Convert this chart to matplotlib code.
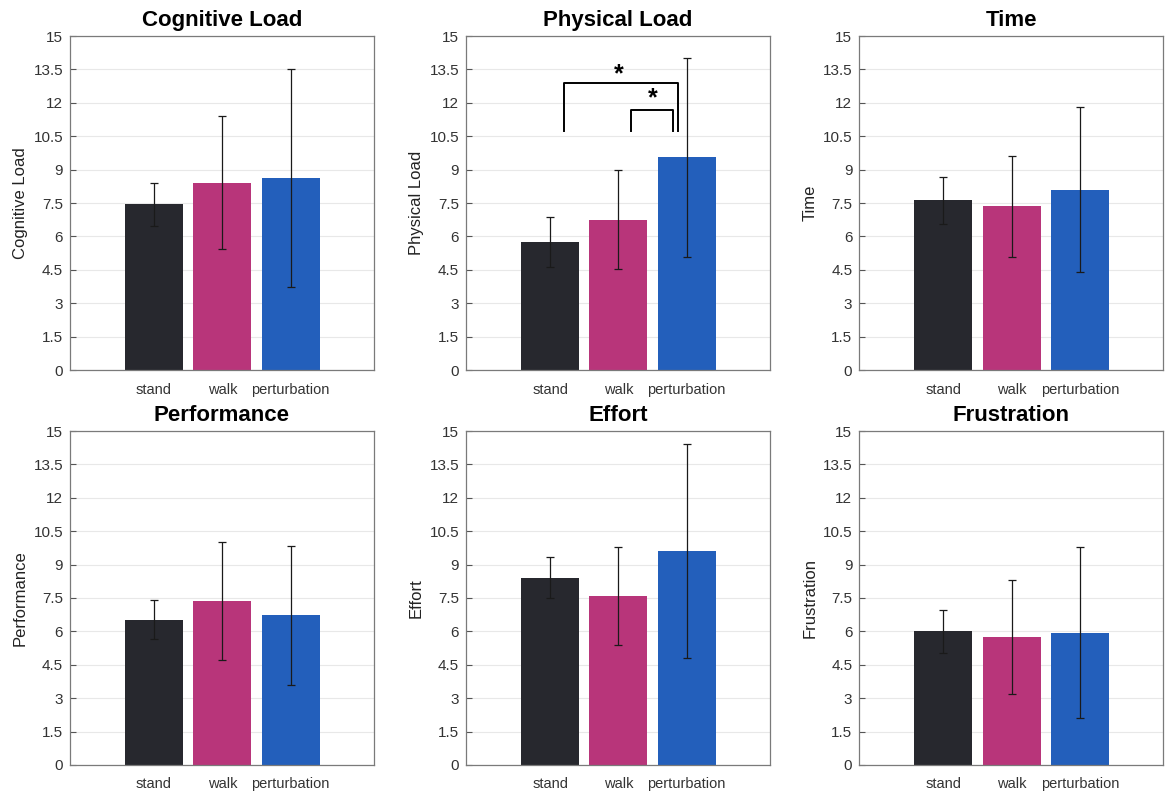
import matplotlib
matplotlib.use("Agg")
from matplotlib import pyplot as plt

# conditions and colours
conditions = ["stand", "walk", "perturbation"]
colors = ["#27282e", "#b8357a", "#235fbb"]

# NASA-TLX subscales: mean and error (half length of the bar)
titles = ["Cognitive Load", "Physical Load", "Time",
          "Performance", "Effort", "Frustration"]
cognitive_mean = [7.45, 8.42, 8.62]
cognitive_err = [0.97, 2.98, 4.90]
physical_mean = [5.75, 6.75, 9.55]
physical_err = [1.12, 2.22, 4.47]
time_mean = [7.62, 7.35, 8.10]
time_err = [1.05, 2.28, 3.70]
performance_mean = [6.52, 7.38, 6.72]
performance_err = [0.88, 2.65, 3.12]
effort_mean = [8.42, 7.57, 9.62]
effort_err = [0.92, 2.20, 4.80]
frustration_mean = [6.00, 5.75, 5.95]
frustration_err = [0.98, 2.55, 3.85]

means = [cognitive_mean, physical_mean, time_mean,
         performance_mean, effort_mean, frustration_mean]
errs = [cognitive_err, physical_err, time_err,
        performance_err, effort_err, frustration_err]

yticks = [0, 1.5, 3, 4.5, 6, 7.5, 9, 10.5, 12, 13.5, 15]
ytick_labels = ["0", "1.5", "3", "4.5", "6", "7.5", "9", "10.5", "12", "13.5", "15"]

# significance brackets on Physical Load: (from, to, height, leg bottom)
brackets = [(1.2, 2.87, 12.9, 10.73), (2.19, 2.8, 11.67, 10.73)]
stars = [(2.0, 13.3), (2.5, 12.2)]

plt.rcParams["font.family"] = ["Liberation Sans", "DejaVu Sans"]

fig = plt.figure(figsize=(11.68, 7.92), dpi=100)
lefts = [0.0599, 0.399, 0.7357]
bottoms = [0.5328, 0.0341]
x = [1, 2, 3]

for i, title in enumerate(titles):
    row, col = divmod(i, 3)
    ax = fig.add_axes([lefts[col], bottoms[row], 0.2603, 0.4217])
    ax.bar(x, means[i], width=0.85, color=colors, zorder=2)
    ax.errorbar(x, means[i], yerr=errs[i], fmt="none", ecolor="#1a1a1a",
                elinewidth=0.9, capsize=3, capthick=0.9, zorder=3)
    ax.set_xlim(-0.23, 4.22)
    ax.set_ylim(0, 15)
    ax.set_yticks(yticks)
    ax.set_yticklabels(ytick_labels)
    ax.set_xticks(x)
    ax.set_xticklabels(conditions)
    ax.yaxis.grid(True, color="#e8e8e8", linewidth=0.8, zorder=0)
    ax.set_axisbelow(True)
    ax.tick_params(direction="in", length=4, colors="#555555",
                   labelcolor="#333333", labelsize=11, pad=5)
    ax.tick_params(axis="x", labelsize=10.5, pad=9)
    for s in ax.spines.values():
        s.set_color("#7a7a7a")
        s.set_linewidth(0.9)
    ax.set_ylabel(title, fontsize=12, color="#222222", labelpad=4)
    ax.set_title(title, fontsize=16, fontweight="bold", pad=7)

    if title == "Physical Load":
        for x0, x1, h, low in brackets:
            ax.plot([x0, x0, x1, x1], [low, h, h, low], color="black",
                    linewidth=1.4, zorder=4)
        for sx, sy in stars:
            ax.text(sx, sy, "*", ha="center", va="center",
                    fontsize=18, fontweight="bold", zorder=5)

plt.savefig("out.png", dpi=100)
